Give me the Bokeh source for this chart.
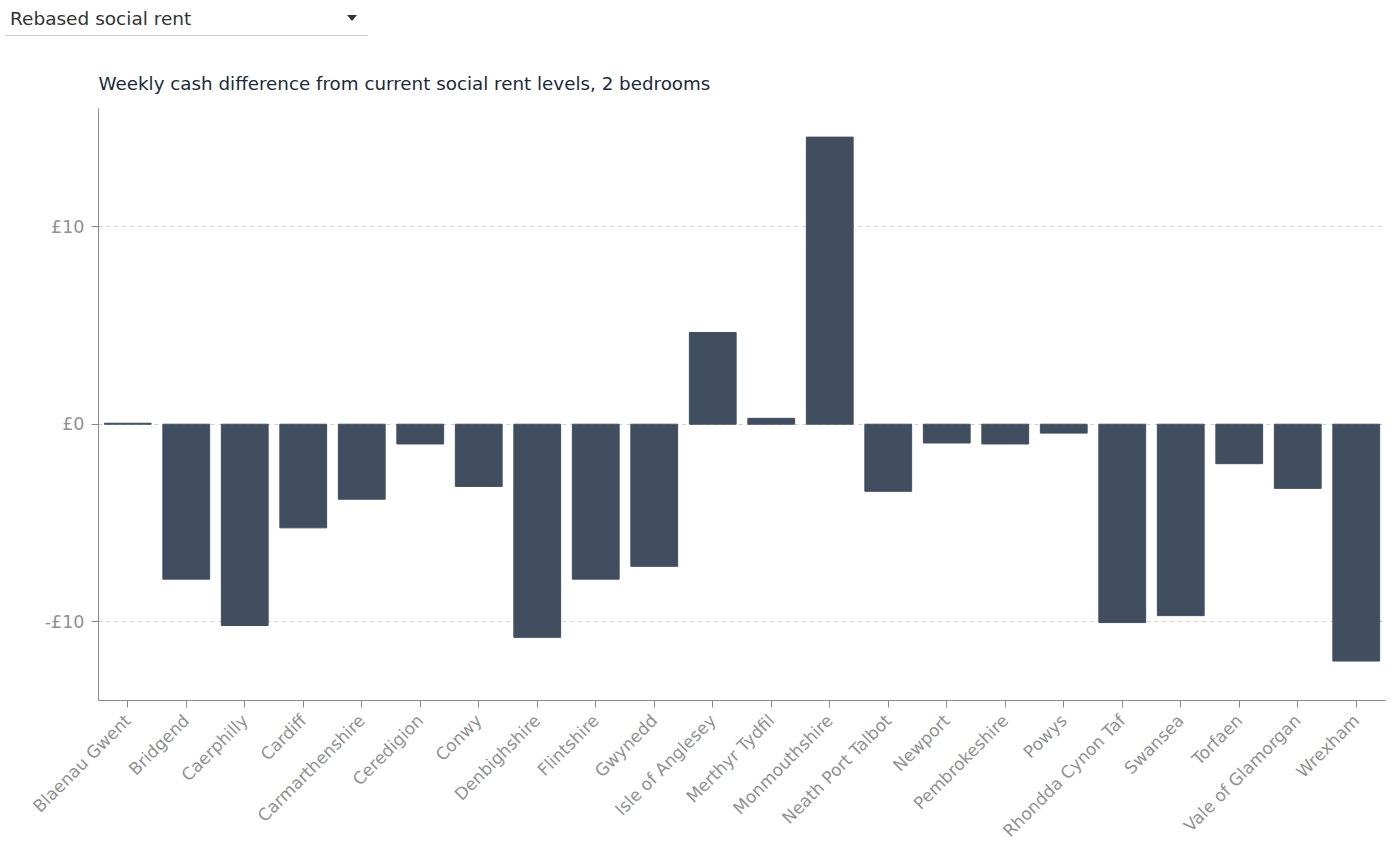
from math import pi
from bokeh.plotting import figure
from bokeh.layouts import column
from bokeh.models import Range1d, FactorRange, FixedTicker, CustomJSTickFormatter, Div
from bokeh.embed import file_html
from bokeh.resources import INLINE

# ---- data ----
areas = ["Blaenau Gwent", "Bridgend", "Caerphilly", "Cardiff", "Carmarthenshire",
         "Ceredigion", "Conwy", "Denbighshire", "Flintshire", "Gwynedd",
         "Isle of Anglesey", "Merthyr Tydfil", "Monmouthshire", "Neath Port Talbot",
         "Newport", "Pembrokeshire", "Powys", "Rhondda Cynon Taf", "Swansea",
         "Torfaen", "Vale of Glamorgan", "Wrexham"]
diff = [0.05, -7.85, -10.2, -5.25, -3.8, -1.0, -3.15, -10.8, -7.85, -7.2,
        4.65, 0.3, 14.55, -3.4, -0.95, -1.0, -0.45, -10.05, -9.7, -2.0, -3.25, -12.0]
y_ticks = [-10, 0, 10]
dropdown_label = "Rebased social rent"
title_text = "Weekly cash difference from current social rent levels, 2 bedrooms"

FONT = "DejaVu Sans"
BAR = "#414e60"

# ---- dropdown header ----
hdr = Div(width=1398, height=45, margin=0, text=(
    '<div style="position:relative;width:1398px;height:45px;font-family:\'DejaVu Sans\';">'
    '<div style="position:absolute;left:5px;top:0px;width:363px;height:36px;'
    'border-bottom:1px solid #cfcfcf;"></div>'
    '<span style="position:absolute;left:10px;top:6px;font-size:18.5px;color:#333333;">'
    + dropdown_label + '</span>'
    '<div style="position:absolute;left:347px;top:15px;width:0;height:0;'
    'border-left:5.5px solid transparent;border-right:5.5px solid transparent;'
    'border-top:6px solid #333333;"></div>'
    '</div>'))

# ---- main chart ----
p = figure(width=1398, height=808, x_range=FactorRange(*areas, range_padding=0),
           y_range=Range1d(-14, 16), output_backend="svg", toolbar_location=None,
           min_border_left=98, min_border_right=13, min_border_top=63,
           min_border_bottom=153, title=title_text, margin=0)
p.title.text_font = FONT
p.title.text_font_size = "18.3px"
p.title.text_font_style = "normal"
p.title.text_color = "#1c2a3d"
p.title.standoff = 30
p.title.offset = 0

p.vbar(x=areas, top=diff, width=0.8, fill_color=BAR, line_color=BAR)

p.outline_line_color = None
p.xgrid.grid_line_color = None
p.ygrid.ticker = FixedTicker(ticks=y_ticks)
p.ygrid.grid_line_color = "#d0d0d0"
p.ygrid.grid_line_dash = "4 4"

p.yaxis.ticker = FixedTicker(ticks=y_ticks)
p.yaxis.formatter = CustomJSTickFormatter(code="return (tick < 0 ? '-' : '') + '£' + Math.abs(tick);")
for ax in (p.xaxis[0], p.yaxis[0]):
    ax.axis_line_color = "#8a8a8a"
    ax.major_tick_line_color = "#8a8a8a"
    ax.major_tick_out = 7
    ax.major_tick_in = 0
    ax.minor_tick_line_color = None
    ax.major_label_text_color = "#919191"
    ax.major_label_text_font = FONT
p.yaxis.major_label_text_font_size = "17.5px"
p.yaxis.major_label_standoff = 7
p.xaxis.major_label_text_font_size = "17px"
p.xaxis.major_label_orientation = pi / 4
p.xaxis.major_label_standoff = 10

layout = column(hdr, p, spacing=0)
open("out.html", "w").write(file_html(layout, INLINE))
